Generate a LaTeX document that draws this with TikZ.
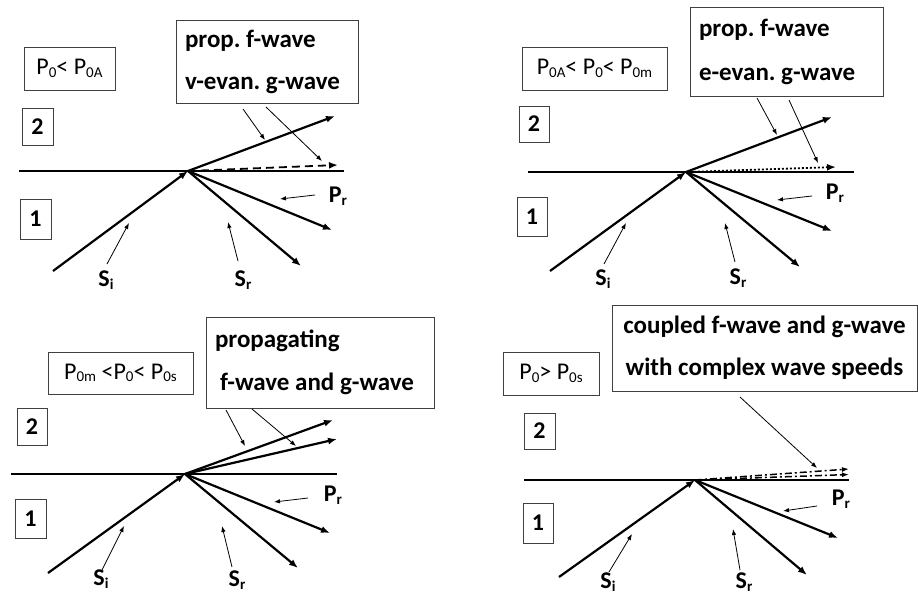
\documentclass[tikz,border=0pt]{standalone}
\usepackage{fontspec}
\setmainfont{Carlito}
\usetikzlibrary{arrows.meta}
\newcommand{\lo}[1]{\raisebox{-2.5pt}{\fontsize{15}{15}\selectfont #1}}
\begin{document}
\frenchspacing
\begin{tikzpicture}[x=1pt,y=-1pt,
  wave/.style={line width=2.2pt, -{Latex[length=9pt,width=7pt]}},
  ptr/.style={line width=0.8pt, -{Latex[length=6pt,width=4.5pt]}},
  iface/.style={line width=1.8pt},
  condbox/.style={draw=black!75, line width=0.8pt, font=\fontsize{24}{28}\selectfont, inner sep=0pt},
  numbox/.style={draw=black!75, line width=0.8pt, font=\bfseries\fontsize{24}{28}\selectfont, inner sep=0pt},
  infobox/.style={draw=black!75, line width=0.8pt, font=\bfseries\fontsize{25}{30}\selectfont, align=left, inner xsep=9pt, inner ysep=0pt},
  lbl/.style={font=\bfseries\fontsize{24}{28}\selectfont, inner sep=0pt}]
\useasboundingbox (0,0) rectangle (918,597);

% ================= Panel 1 =================
\node[condbox, minimum width=91, minimum height=43] (c1) at (69.5,68.5) {P\lo{0}< P\lo{0A}};
\node[infobox, minimum width=182, minimum height=83, text width=164] (i1) at (267,61.5) {\spaceskip=0pt\xspaceskip=0pt prop. f-wave\\[12pt]v-evan. g-wave};
\node[numbox, minimum width=31, minimum height=37] (n2a) at (37.5,126.5) {2};
\node[numbox, minimum width=31, minimum height=40] (n1a) at (35.5,219) {1};
\coordinate (L1) at (19,171); \coordinate (R1) at (344,171);
\coordinate (O1) at (188,171);
\coordinate (S1) at (53,271);
\coordinate (F1) at (335,116);
\coordinate (G1) at (338,165);
\coordinate (P1) at (332,230);
\coordinate (T1) at (301,266);
\draw[iface] (L1) -- (R1);
\draw[wave] (S1) -- (O1);
\draw[wave] (O1) -- (F1);
\draw[wave, line width=1.8pt, dash pattern=on 8pt off 5pt] (O1) -- (G1);
\draw[wave] (O1) -- (P1);
\draw[wave] (O1) -- (T1);
\node[lbl] (si1) at (106,280) {S\lo{i}};
\node[lbl] (sr1) at (243,280) {S\lo{r}};
\node[lbl] (pr1) at (338,196) {P\lo{r}};
\coordinate (a1s) at (243,109); \coordinate (a1e) at (265,140);
\coordinate (b1s) at (266,107); \coordinate (b1e) at (322,161);
\coordinate (p1s) at (315,195); \coordinate (p1e) at (280,199);
\coordinate (q1s) at (107,264); \coordinate (q1e) at (129,223);
\coordinate (r1s) at (238,261); \coordinate (r1e) at (228,222);
\draw[ptr] (a1s) -- (a1e);
\draw[ptr] (b1s) -- (b1e);
\draw[ptr] (p1s) -- (p1e);
\draw[ptr] (q1s) -- (q1e);
\draw[ptr] (r1s) -- (r1e);

% ================= Panel 2 =================
\node[condbox, minimum width=145, minimum height=43] (c2) at (594.5,68.5) {P\lo{0A}< P\lo{0}< P\lo{0m}};
\node[infobox, minimum width=193, minimum height=89, text width=175] (i2) at (786.5,51.5) {\spaceskip=0pt\xspaceskip=0pt prop. f-wave\\[14pt]e-evan. g-wave};
\node[numbox, minimum width=30, minimum height=36] (n2b) at (534,124) {2};
\node[numbox, minimum width=30, minimum height=39] (n1b) at (532,216.5) {1};
\coordinate (L2) at (528,172); \coordinate (R2) at (854,172);
\coordinate (O2) at (686,172);
\coordinate (S2) at (550,271);
\coordinate (F2) at (832,117);
\coordinate (G2) at (836,167);
\coordinate (P2) at (832,231);
\coordinate (T2) at (800,267);
\draw[iface] (L2) -- (R2);
\draw[wave] (S2) -- (O2);
\draw[wave] (O2) -- (F2);
\draw[wave, line width=1.8pt, dash pattern=on 2pt off 2pt] (O2) -- (G2);
\draw[wave] (O2) -- (P2);
\draw[wave] (O2) -- (T2);
\node[lbl] (si2) at (603,279) {S\lo{i}};
\node[lbl] (sr2) at (738,278) {S\lo{r}};
\node[lbl] (pr2) at (835,193) {P\lo{r}};
\coordinate (a2s) at (757,98); \coordinate (a2e) at (777,135);
\coordinate (b2s) at (789,100); \coordinate (b2e) at (818,163);
\coordinate (p2s) at (812,196); \coordinate (p2e) at (777,200);
\coordinate (q2s) at (604,264); \coordinate (q2e) at (626,223);
\coordinate (r2s) at (735,262); \coordinate (r2e) at (725,223);
\draw[ptr] (a2s) -- (a2e);
\draw[ptr] (b2s) -- (b2e);
\draw[ptr] (p2s) -- (p2e);
\draw[ptr] (q2s) -- (q2e);
\draw[ptr] (r2s) -- (r2e);

% ================= Panel 3 =================
\node[condbox, minimum width=145, minimum height=42] (c3) at (120.5,373) {P\lo{0m} <P\lo{0}< P\lo{0s}};
\node[infobox, minimum width=228, minimum height=91, text width=210] (i3) at (320,362.5) {\spaceskip=0pt\xspaceskip=0pt propagating\\[13pt]\hspace{5pt}f-wave and g-wave};
\node[numbox, minimum width=30, minimum height=37] (n2c) at (32,426.5) {2};
\node[numbox, minimum width=31, minimum height=39] (n1c) at (30.5,518.5) {1};
\coordinate (L3) at (11,474); \coordinate (R3) at (337,474);
\coordinate (O3) at (185,474);
\coordinate (S3) at (48,573);
\coordinate (F3) at (333,420);
\coordinate (G3) at (337,439);
\coordinate (P3) at (330,533);
\coordinate (T3) at (298,568);
\draw[iface] (L3) -- (R3);
\draw[wave] (S3) -- (O3);
\draw[wave] (O3) -- (F3);
\draw[wave] (O3) -- (G3);
\draw[wave] (O3) -- (P3);
\draw[wave] (O3) -- (T3);
\node[lbl] (si3) at (101,579) {S\lo{i}};
\node[lbl] (sr3) at (237,580) {S\lo{r}};
\node[lbl] (pr3) at (333,495) {P\lo{r}};
\coordinate (a3s) at (226,410); \coordinate (a3e) at (245,446);
\coordinate (b3s) at (252,409); \coordinate (b3e) at (296,446);
\coordinate (p3s) at (308,498); \coordinate (p3e) at (274,502);
\coordinate (q3s) at (102,570); \coordinate (q3e) at (124,526);
\coordinate (r3s) at (232,567); \coordinate (r3e) at (222,526);
\draw[ptr] (a3s) -- (a3e);
\draw[ptr] (b3s) -- (b3e);
\draw[ptr] (p3s) -- (p3e);
\draw[ptr] (q3s) -- (q3e);
\draw[ptr] (r3s) -- (r3e);

% ================= Panel 4 =================
\node[condbox, minimum width=96, minimum height=43] (c4) at (551,373.5) {P\lo{0}> P\lo{0s}};
\node[infobox, align=center, minimum width=305, minimum height=86] (i4) at (764.5,348) {coupled f-wave and g-wave\\[12pt]with complex wave speeds};
\node[numbox, minimum width=31, minimum height=36] (n2d) at (539.5,431) {2};
\node[numbox, minimum width=30, minimum height=40] (n1d) at (538,523) {1};
\coordinate (L4) at (524,480); \coordinate (R4) at (849,480);
\coordinate (O4) at (695,480);
\coordinate (S4) at (559,577);
\coordinate (U4) at (849,469);
\coordinate (V4) at (849,474.5);
\coordinate (P4) at (838,538);
\coordinate (T4) at (807,575);
\draw[iface] (L4) -- (R4);
\draw[wave] (S4) -- (O4);
\draw[line width=1.5pt, dash pattern=on 7pt off 3pt on 2pt off 3pt, -{Latex[length=7pt,width=5pt]}] (O4) -- (U4);
\draw[line width=1.5pt, dash pattern=on 7pt off 3pt on 2pt off 3pt, -{Latex[length=7pt,width=5pt]}] (O4) -- (V4);
\draw[wave] (O4) -- (P4);
\draw[wave] (O4) -- (T4);
\node[lbl] (si4) at (608,582) {S\lo{i}};
\node[lbl] (sr4) at (744,582) {S\lo{r}};
\node[lbl] (pr4) at (841,499) {P\lo{r}};
\coordinate (a4s) at (740,397); \coordinate (a4e) at (817,468);
\coordinate (p4s) at (817,506); \coordinate (p4e) at (783,511);
\coordinate (q4s) at (609,572); \coordinate (q4e) at (632,534);
\coordinate (r4s) at (740,570); \coordinate (r4e) at (733,529);
\draw[ptr] (a4s) -- (a4e);
\draw[ptr] (p4s) -- (p4e);
\draw[ptr] (q4s) -- (q4e);
\draw[ptr] (r4s) -- (r4e);
\end{tikzpicture}
\end{document}
